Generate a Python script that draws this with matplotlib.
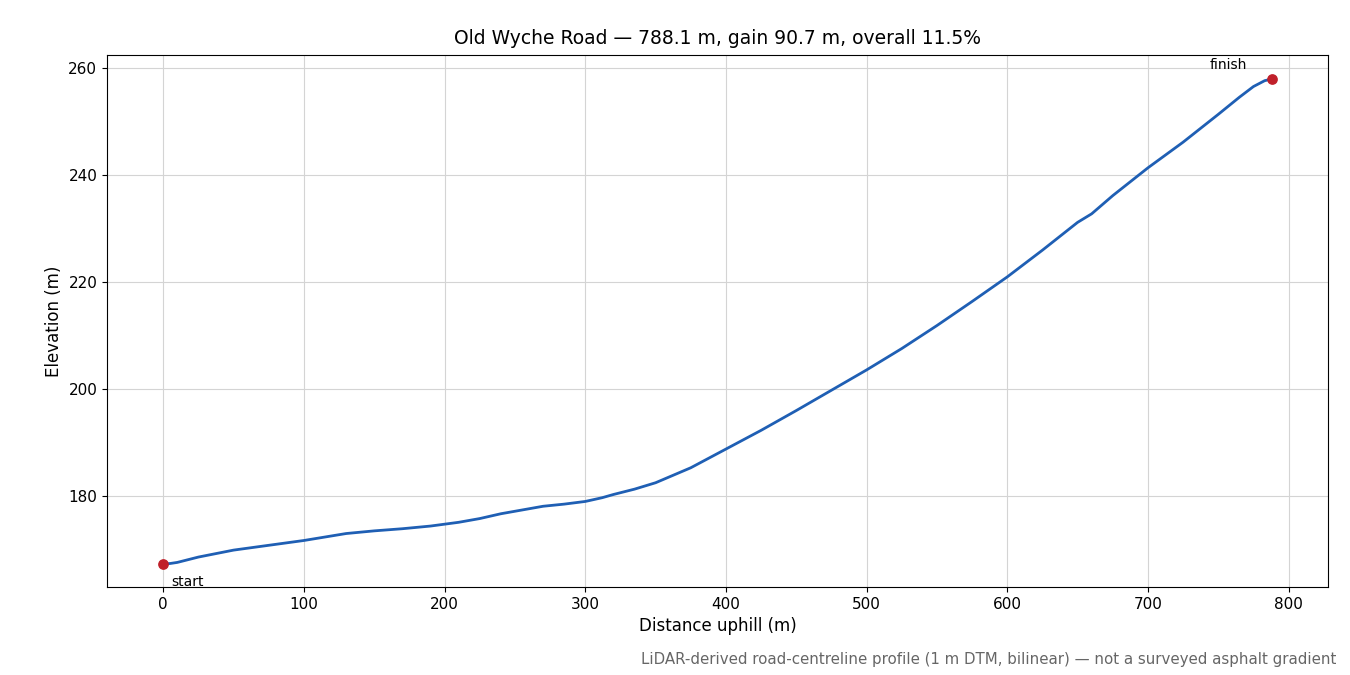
import matplotlib.pyplot as plt

# profile
distance = [0, 5, 10, 25, 50, 75, 100, 130, 150, 170, 190, 210, 225, 240, 255, 270,
            285, 300, 312, 320, 335, 350, 375, 400, 425, 450, 475, 500, 525, 550,
            575, 600, 625, 650, 660, 675, 700, 725, 750, 765, 775, 783, 788.1]
elevation = [167.3, 167.4, 167.6, 168.6, 169.9, 170.8, 171.7, 173.0, 173.5, 173.9,
             174.4, 175.1, 175.8, 176.7, 177.4, 178.1, 178.5, 179.0, 179.7, 180.3,
             181.3, 182.5, 185.3, 188.8, 192.3, 196.0, 199.8, 203.6, 207.6, 211.9,
             216.4, 221.0, 226.0, 231.2, 232.8, 236.2, 241.4, 246.2, 251.4, 254.6,
             256.6, 257.7, 258.0]

plt.rcParams['font.family'] = ['DejaVu Sans']
fig = plt.figure(figsize=(13.5, 6.75), dpi=100)
ax = fig.add_axes([107 / 1350, 1 - 587 / 675, (1328 - 107) / 1350, (587 - 55) / 675])

ax.plot(distance, elevation, color='#1f5fb4', lw=2, zorder=3)
ax.scatter([distance[0], distance[-1]], [elevation[0], elevation[-1]],
           color='#c0202a', s=45, zorder=4)
ax.annotate('start', (distance[0], elevation[0]), xytext=(6, -16),
            textcoords='offset points', fontsize=10)
ax.annotate('finish', (distance[-1], elevation[-1]), xytext=(-45, 7),
            textcoords='offset points', fontsize=10)

ax.set_xlim(-40, 828)
ax.set_ylim(163, 262.5)
ax.set_yticks([180, 200, 220, 240, 260])
ax.grid(True, color='#d4d4d4', lw=0.8)
ax.tick_params(labelsize=11)
ax.set_xlabel('Distance uphill (m)', fontsize=12)
ax.set_ylabel('Elevation (m)', fontsize=12)
ax.set_title('Old Wyche Road — 788.1 m, gain 90.7 m, overall 11.5%', fontsize=13.5, pad=8)
fig.text(0.99, 0.012, 'LiDAR-derived road-centreline profile (1 m DTM, bilinear) — not a surveyed asphalt gradient',
         ha='right', va='bottom', fontsize=10.8, color='#666666')

fig.savefig('out.png', dpi=100)
